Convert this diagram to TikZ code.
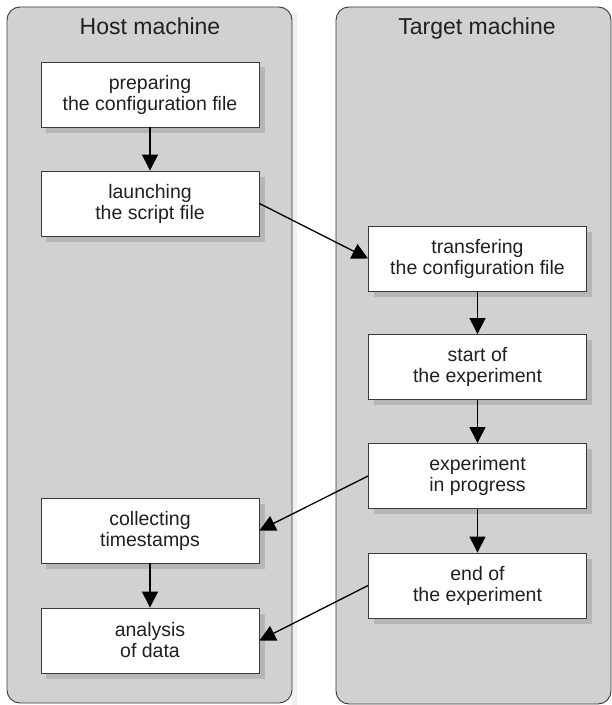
\documentclass[tikz,border=0pt]{standalone}
\usepackage{fontspec}
\setmainfont{Liberation Sans}
\usetikzlibrary{arrows.meta,shadows}
\definecolor{panelgray}{HTML}{D0D1D0}
\definecolor{shadowgray}{HTML}{B5B6B5}
\definecolor{edgegray}{HTML}{3A3A3A}
\definecolor{textgray}{HTML}{202020}
\tikzset{
  panel/.style={draw=edgegray, fill=panelgray, rounded corners=13bp, line width=0.9bp},
  paneltitle/.style={anchor=base, text=textgray, font=\fontsize{23bp}{26bp}\selectfont, inner sep=0pt},
  stepbox/.style={draw=edgegray, fill=white, line width=0.9bp,
    minimum width=218bp, minimum height=65bp, inner sep=0pt, align=center,
    text=textgray, font=\fontsize{19.5bp}{21bp}\selectfont,
    drop shadow={shadow xshift=5.5bp, shadow yshift=-5.5bp, fill=shadowgray, opacity=1}},
  flow/.style={line width=1.3bp, draw=black, -{Triangle[length=16bp,width=16bp]}}
}
\begin{document}
\begin{tikzpicture}[x=1bp,y=-1bp]
\useasboundingbox (0,0) rectangle (612,705);
\fill[white] (0,0) rectangle (612,705);
% faint panel shadow
\fill[black!6] (292,12) rectangle (297,705);
% panels
\path[panel] (7,7) rectangle (292,703);
\path[panel] (336,7) rectangle (611,704);
\node[paneltitle] (hosttitle) at (150,35) {Host machine};
\node[paneltitle] (targettitle) at (477,35) {Target machine};
% host boxes
\node[stepbox] (prep) at (150,94.5) {preparing\\the configuration file};
\node[stepbox] (launch) at (150,203.5) {launching\\the script file};
\node[stepbox] (collect) at (150,530.5) {collecting\\timestamps};
\node[stepbox] (analysis) at (150,640.5) {analysis\\of data};
% target boxes
\node[stepbox] (transfer) at (477.5,258.5) {transfering\\the configuration file};
\node[stepbox] (start) at (477.5,367) {start of\\the experiment};
\node[stepbox] (progress) at (477.5,476) {experiment\\in progress};
\node[stepbox] (finish) at (477.5,585.5) {end of\\the experiment};
% connectors
\draw[flow] (prep) -- (launch);
\draw[flow] (launch.east) -- (transfer.west);
\draw[flow] (transfer) -- (start);
\draw[flow] (start) -- (progress);
\draw[flow] (progress) -- (finish);
\draw[flow] (progress.west) -- (collect.east);
\draw[flow] (collect) -- (analysis);
\draw[flow] (finish.west) -- (analysis.east);
\end{tikzpicture}
\end{document}
